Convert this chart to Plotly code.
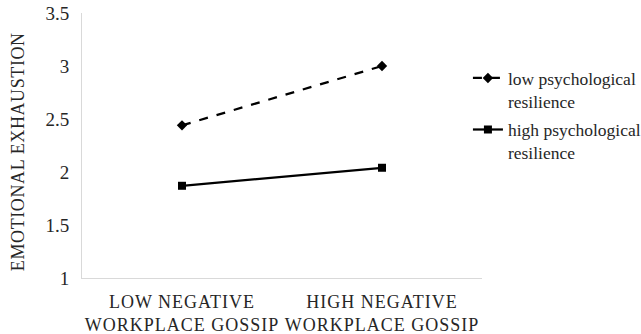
import plotly.graph_objects as go

categories = ["LOW NEGATIVE<br>WORKPLACE GOSSIP", "HIGH NEGATIVE<br>WORKPLACE GOSSIP"]
low_resilience = [2.44, 3.00]
high_resilience = [1.87, 2.04]
series_names = ["low psychological<br>resilience", "high psychological<br>resilience"]
y_ticks = [1, 1.5, 2, 2.5, 3, 3.5]
y_ticklabels = ["1", "1.5", "2", "2.5", "3", "3.5"]
y_title = "EMOTIONAL EXHAUSTION"

font_family = '"Liberation Serif", "Times New Roman", "DejaVu Serif", serif'
txt_color = "#262626"

fig = go.Figure()
fig.add_trace(go.Scatter(
    x=categories, y=low_resilience, name=series_names[0], mode="lines+markers",
    line=dict(color="black", width=2.25, dash="dash"),
    marker=dict(symbol="diamond", size=8, color="black"),
    legendgroup="a",
))
fig.add_trace(go.Scatter(
    x=categories, y=high_resilience, name=series_names[1], mode="lines+markers",
    line=dict(color="black", width=2.25),
    marker=dict(symbol="square", size=8, color="black"),
    legendgroup="b",
))

fig.update_layout(
    width=641, height=334,
    margin=dict(l=82, r=159, t=13, b=56, autoexpand=False),
    paper_bgcolor="white", plot_bgcolor="white",
    font=dict(family=font_family, size=18, color=txt_color),
    showlegend=True,
    legend=dict(x=0.730, y=0.820, xref="container", yref="container",
                xanchor="left", yanchor="top",
                font=dict(family=font_family, size=17.5, color=txt_color),
                valign="top", itemwidth=30, bgcolor="rgba(0,0,0,0)",
                tracegroupgap=3),
    xaxis=dict(type="category", range=[-0.5, 1.5], showgrid=False, automargin=False,
               showline=True, linecolor="#d9d9d9", linewidth=1,
               ticks="", ticklabelstandoff=7, tickangle=0,
               tickfont=dict(family=font_family, size=18, color=txt_color)),
    yaxis=dict(range=[1, 3.5], tickvals=y_ticks, ticktext=y_ticklabels,
               showgrid=False, zeroline=False, automargin=False,
               showline=True, linecolor="#d9d9d9", linewidth=1,
               ticks="", ticklabelstandoff=8,
               tickfont=dict(family=font_family, size=19, color=txt_color)),
    annotations=[dict(text=y_title, xref="paper", yref="paper", x=-0.16, y=0.475,
                      textangle=-90, showarrow=False, xanchor="center", yanchor="middle",
                      font=dict(family=font_family, size=18, color=txt_color))],
)

post = (
    "document.body.style.margin='0';document.body.style.overflow='hidden';"
    "document.querySelectorAll('.xtick text').forEach(function(t){t.style.letterSpacing='1px';});"
    "document.querySelectorAll('.annotation-text').forEach(function(t){t.style.letterSpacing='0.6px';});"
)
fig.write_html("out.html", config={"displayModeBar": False}, post_script=post)
